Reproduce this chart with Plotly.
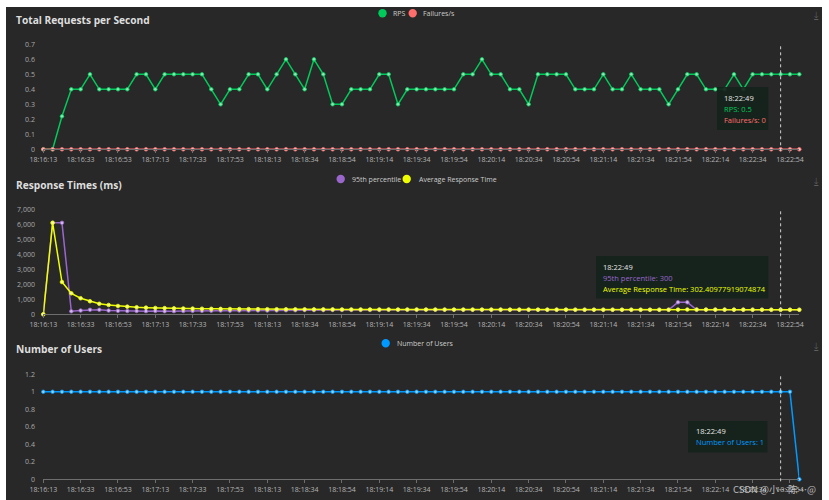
import plotly.graph_objects as go

# ---------------- data ----------------
times = [
    "18:16:13", "18:16:18", "18:16:23", "18:16:28", "18:16:33", "18:16:38", "18:16:43", "18:16:48", "18:16:53", "18:16:58",
    "18:17:03", "18:17:08", "18:17:13", "18:17:18", "18:17:23", "18:17:28", "18:17:33", "18:17:38", "18:17:43", "18:17:48",
    "18:17:53", "18:17:58", "18:18:03", "18:18:08", "18:18:13", "18:18:18", "18:18:23", "18:18:29", "18:18:34", "18:18:39",
    "18:18:44", "18:18:49", "18:18:54", "18:18:59", "18:19:04", "18:19:09", "18:19:14", "18:19:19", "18:19:24", "18:19:29",
    "18:19:34", "18:19:39", "18:19:44", "18:19:49", "18:19:54", "18:19:59", "18:20:04", "18:20:09", "18:20:14", "18:20:19",
    "18:20:24", "18:20:29", "18:20:34", "18:20:39", "18:20:44", "18:20:49", "18:20:54", "18:20:59", "18:21:04", "18:21:09",
    "18:21:14", "18:21:19", "18:21:24", "18:21:29", "18:21:34", "18:21:39", "18:21:44", "18:21:49", "18:21:54", "18:21:59",
    "18:22:04", "18:22:09", "18:22:14", "18:22:19", "18:22:24", "18:22:29", "18:22:34", "18:22:39", "18:22:44", "18:22:49",
    "18:22:54", "18:22:59",
]

tick_labels = [
    "18:16:13", "18:16:33", "18:16:53", "18:17:13", "18:17:33", "18:17:53", "18:18:13",
    "18:18:34", "18:18:54", "18:19:14", "18:19:34", "18:19:54", "18:20:14", "18:20:34",
    "18:20:54", "18:21:14", "18:21:34", "18:21:54", "18:22:14", "18:22:34", "18:22:54",
]

rps = [
    0, 0, 0.22, 0.4, 0.4, 0.5, 0.4, 0.4, 0.4, 0.4,
    0.5, 0.5, 0.4, 0.5, 0.5, 0.5, 0.5, 0.5, 0.4, 0.3,
    0.4, 0.4, 0.5, 0.5, 0.4, 0.5, 0.6, 0.5, 0.4, 0.6,
    0.5, 0.3, 0.3, 0.4, 0.4, 0.4, 0.5, 0.5, 0.3, 0.4,
    0.4, 0.4, 0.4, 0.4, 0.4, 0.5, 0.5, 0.6, 0.5, 0.5,
    0.4, 0.4, 0.3, 0.5, 0.5, 0.5, 0.5, 0.4, 0.4, 0.4,
    0.5, 0.4, 0.4, 0.5, 0.4, 0.4, 0.4, 0.3, 0.4, 0.5,
    0.5, 0.4, 0.4, 0.4, 0.5, 0.4, 0.5, 0.5, 0.5, 0.5,
    0.5, 0.5,
]

failures = [
    0, 0, 0, 0, 0, 0, 0, 0, 0, 0,
    0, 0, 0, 0, 0, 0, 0, 0, 0, 0,
    0, 0, 0, 0, 0, 0, 0, 0, 0, 0,
    0, 0, 0, 0, 0, 0, 0, 0, 0, 0,
    0, 0, 0, 0, 0, 0, 0, 0, 0, 0,
    0, 0, 0, 0, 0, 0, 0, 0, 0, 0,
    0, 0, 0, 0, 0, 0, 0, 0, 0, 0,
    0, 0, 0, 0, 0, 0, 0, 0, 0, 0,
    0, 0,
]

p95 = [
    0, 6100, 6100, 200, 250, 300, 300, 250, 230, 220,
    220, 210, 220, 200, 210, 220, 230, 230, 240, 250,
    240, 250, 250, 260, 250, 260, 270, 270, 280, 280,
    280, 290, 290, 290, 290, 290, 290, 300, 300, 300,
    300, 300, 300, 300, 300, 300, 300, 300, 300, 300,
    300, 300, 300, 300, 300, 300, 300, 300, 300, 300,
    300, 300, 300, 300, 300, 300, 300, 300, 800, 800,
    300, 300, 300, 300, 300, 300, 300, 300, 300, 300,
    300, 300,
]

avg_rt = [
    0, 6100, 2150, 1400, 1070, 870, 700, 620, 555, 510,
    470, 445, 425, 410, 398, 388, 380, 372, 366, 360,
    355, 351, 347, 344, 341, 338, 336, 334, 332, 330,
    328, 327, 325, 324, 323, 322, 321, 320, 319, 318,
    317, 316, 316, 315, 314, 314, 313, 313, 312, 312,
    311, 311, 310, 310, 309, 309, 309, 308, 308, 308,
    307, 307, 307, 306, 306, 306, 305, 305, 311, 317,
    316, 315, 313, 312, 311, 309, 308, 306, 304, 302.40977919074874,
    302, 302,
]

users = [
    1, 1, 1, 1, 1, 1, 1, 1, 1, 1,
    1, 1, 1, 1, 1, 1, 1, 1, 1, 1,
    1, 1, 1, 1, 1, 1, 1, 1, 1, 1,
    1, 1, 1, 1, 1, 1, 1, 1, 1, 1,
    1, 1, 1, 1, 1, 1, 1, 1, 1, 1,
    1, 1, 1, 1, 1, 1, 1, 1, 1, 1,
    1, 1, 1, 1, 1, 1, 1, 1, 1, 1,
    1, 1, 1, 1, 1, 1, 1, 1, 1, 1,
    1, 0,
]

rps_ticks = [0, 0.1, 0.2, 0.3, 0.4, 0.5, 0.6, 0.7]
rt_ticks = [0, 1000, 2000, 3000, 4000, 5000, 6000, 7000]
user_ticks = [0, 0.2, 0.4, 0.6, 0.8, 1, 1.2]

HOVER_INDEX = 79

# ---------------- styling helpers ----------------
W, H = 829, 500
BG = "#282828"
FONT = "Open Sans"
GREEN, RED = "#00ca5a", "#ff6d6d"
PURPLE, YELLOW = "#9966cc", "#eeff00"
BLUE = "#0099ff"
AXIS_COL = "#6e6e6e"
TIP_BG = "rgba(21,35,28,0.93)"


def fx(px):
    return px / W


def fy(py):
    return 1 - py / H


def tint(hex_col, amt=0.55):
    h = hex_col.lstrip("#")
    r, g, b = int(h[0:2], 16), int(h[2:4], 16), int(h[4:6], 16)
    r, g, b = [int(c + (255 - c) * amt) for c in (r, g, b)]
    return "#%02x%02x%02x" % (r, g, b)


X0, X1 = 43.3, 799.3
PAD = 2.0
panels = [
    dict(zero=149.3, top=44.3, ymax=0.7, ticks=rps_ticks, fmt=""),
    dict(zero=314.3, top=209.3, ymax=7000, ticks=rt_ticks, fmt=","),
    dict(zero=479.3, top=374.3, ymax=1.2, ticks=user_ticks, fmt=""),
]

fig = go.Figure()


def add_series(yvals, name, color, k):
    sfx = "" if k == 0 else str(k + 1)
    fig.add_trace(go.Scatter(
        x=times, y=yvals, name=name, mode="lines+markers",
        line=dict(color=color, width=1.5),
        marker=dict(size=3.6, color=tint(color), line=dict(color=color, width=0.8)),
        xaxis="x" + sfx, yaxis="y" + sfx, showlegend=False,
        cliponaxis=False, hoverinfo="skip",
    ))


add_series(rps, "RPS", GREEN, 0)
add_series(failures, "Failures/s", RED, 0)
add_series(p95, "95th percentile", PURPLE, 1)
add_series(avg_rt, "Average Response Time", YELLOW, 1)
add_series(users, "Number of Users", BLUE, 2)

layout = dict(
    width=W, height=H, autosize=False,
    margin=dict(l=0, r=0, t=0, b=0, pad=0),
    paper_bgcolor="#ffffff", plot_bgcolor="rgba(0,0,0,0)",
    font=dict(family=FONT, color="#bbbbbb"),
    showlegend=False,
)

for k, p in enumerate(panels):
    sfx = "" if k == 0 else str(k + 1)
    span = p["zero"] - p["top"]
    low = -p["ymax"] * PAD / span
    layout["xaxis" + sfx] = dict(
        type="category", range=[0, len(times) - 1],
        domain=[fx(X0), fx(X1)], anchor="free", position=fy(p["zero"]),
        tickvals=tick_labels, ticktext=tick_labels,
        tickfont=dict(size=7, color="#b4b4b4", family=FONT),
        showline=True, linecolor=AXIS_COL, linewidth=1,
        ticks="outside", ticklen=3, tickcolor=AXIS_COL, tickwidth=1,
        showgrid=False, zeroline=False, automargin=False, fixedrange=True,
        tickangle=0,
    )
    layout["yaxis" + sfx] = dict(
        range=[low, p["ymax"]],
        domain=[fy(p["zero"] + PAD), fy(p["top"])],
        anchor="x" + sfx,
        tickvals=p["ticks"], tickformat=p["fmt"],
        tickfont=dict(size=7, color="#a8a8a8", family=FONT),
        showgrid=False, zeroline=False, showline=False,
        ticks="outside", ticklen=6, tickcolor="rgba(0,0,0,0)",
        automargin=False, fixedrange=True,
    )

fig.update_layout(**layout)

shapes = []
annotations = []

# dark page background
shapes.append(dict(type="rect", xref="paper", yref="paper", layer="below",
                   x0=fx(6), x1=fx(822), y0=fy(500), y1=fy(7),
                   fillcolor=BG, line=dict(width=0)))

# titles
titles = [("Total Requests per Second", 19.5), ("Response Times (ms)", 184.5), ("Number of Users", 349.3)]
for txt, yc in titles:
    annotations.append(dict(text="<b>" + txt + "</b>", xref="paper", yref="paper",
                            x=fx(13.5), y=fy(yc), xanchor="left", yanchor="middle",
                            showarrow=False, font=dict(size=10.2, color="#dedede", family=FONT)))

# legends (circle + label)
legend_items = [
    ("RPS", GREEN, 382.5, 13.3, 390.5),
    ("Failures/s", RED, 412.7, 13.3, 421.5),
    ("95th percentile", PURPLE, 340.7, 179.0, 350.0),
    ("Average Response Time", YELLOW, 406.7, 179.0, 416.5),
    ("Number of Users", BLUE, 385.7, 343.3, 394.5),
]
for name, col, cx, cy, tx in legend_items:
    r = 4.2
    shapes.append(dict(type="circle", xref="paper", yref="paper",
                       x0=fx(cx - r), x1=fx(cx + r), y0=fy(cy + r), y1=fy(cy - r),
                       fillcolor=col, line=dict(width=0)))
    annotations.append(dict(text=name, xref="paper", yref="paper", x=fx(tx), y=fy(cy),
                            xanchor="left", yanchor="middle", showarrow=False,
                            font=dict(size=7, color="#cccccc", family=FONT)))

# hover pointer dashed lines
for k in range(3):
    sfx = "" if k == 0 else str(k + 1)
    shapes.append(dict(type="line", xref="x" + sfx, yref="y" + sfx + " domain",
                       x0=times[HOVER_INDEX], x1=times[HOVER_INDEX], y0=0, y1=1,
                       line=dict(color="#d0d0d0", width=1, dash="dot")))

# tooltips
tooltips = [
    ((717, 768.3, 87, 130), 721.7, [97.7, 108.6, 119.5],
     [(times[HOVER_INDEX], "#e6e6e6"),
      ("RPS: " + str(rps[HOVER_INDEX]), GREEN),
      ("Failures/s: " + str(failures[HOVER_INDEX]), RED)]),
    ((596, 768.3, 256, 298.5), 601, [266.7, 277.7, 288.7],
     [(times[HOVER_INDEX], "#e6e6e6"),
      ("95th percentile: " + str(p95[HOVER_INDEX]), PURPLE),
      ("Average Response Time: " + repr(avg_rt[HOVER_INDEX]), YELLOW)]),
    ((688, 767.5, 421, 452.5), 694, [430.5, 441.9],
     [(times[HOVER_INDEX], "#e6e6e6"),
      ("Number of Users: " + str(users[HOVER_INDEX]), BLUE)]),
]
for (bx0, bx1, by0, by1), tx, ys, lines in tooltips:
    shapes.append(dict(type="rect", xref="paper", yref="paper",
                       x0=fx(bx0), x1=fx(bx1), y0=fy(by1), y1=fy(by0),
                       fillcolor=TIP_BG, line=dict(width=0)))
    for yy, (txt, col) in zip(ys, lines):
        annotations.append(dict(text=txt, xref="paper", yref="paper", x=fx(tx), y=fy(yy),
                                xanchor="left", yanchor="middle", showarrow=False,
                                font=dict(size=7.5, color=col, family=FONT)))

# download icons
for yc in (15, 181, 346):
    annotations.append(dict(text="⤓", xref="paper", yref="paper", x=fx(816), y=fy(yc),
                            xanchor="center", yanchor="middle", showarrow=False,
                            font=dict(size=10, color="#5e5e5e", family="DejaVu Sans")))

# watermark
annotations.append(dict(text="CSDN @小…陈…@", xref="paper", yref="paper", x=fx(818), y=fy(489),
                        xanchor="right", yanchor="middle", showarrow=False,
                        font=dict(size=9.5, color="rgba(235,235,235,0.75)",
                                  family="Noto Sans CJK SC")))

fig.update_layout(shapes=shapes, annotations=annotations)
fig.write_html("out.html", config={"displayModeBar": False},
               post_script="document.body.style.margin='0';document.body.style.padding='0';"
                           "document.body.style.overflow='hidden';")
